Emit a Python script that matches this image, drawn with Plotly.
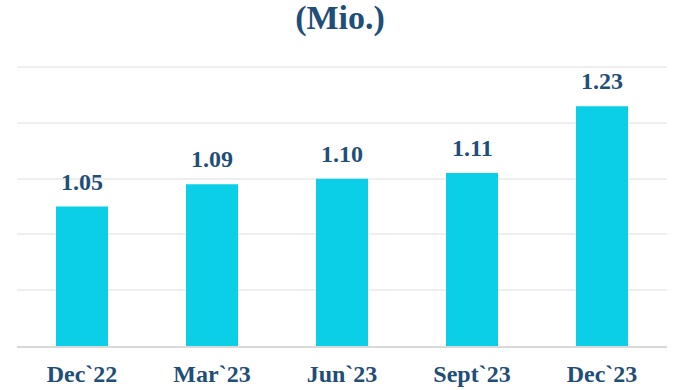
import plotly.graph_objects as go

# Quarterly figures, in millions
periods = ["Dec`22", "Mar`23", "Jun`23", "Sept`23", "Dec`23"]
values = [1.05, 1.09, 1.10, 1.11, 1.23]
value_labels = ["1.05", "1.09", "1.10", "1.11", "1.23"]

BAR_COLOR = "#0BCFE6"
TEXT_COLOR = "#1F4E79"
FONT = "Liberation Serif"

fig = go.Figure(
    go.Bar(
        x=periods,
        y=values,
        marker=dict(color=BAR_COLOR, line=dict(width=0)),
        hoverinfo="skip",
    )
)

for p, v, lab in zip(periods, values, value_labels):
    fig.add_annotation(
        x=p, y=v, text=f"<b>{lab}</b>", showarrow=False,
        yanchor="bottom", yshift=10,
        font=dict(family=FONT, size=24, color=TEXT_COLOR),
    )

fig.update_layout(
    width=680, height=390,
    margin=dict(l=17, r=13, t=66, b=44),
    paper_bgcolor="white", plot_bgcolor="white",
    bargap=0.6,
    showlegend=False,
    title=dict(
        text="<b>(Mio.)</b>", x=0.5, xanchor="center",
        y=1 - 17 / 390, yanchor="middle",
        font=dict(family=FONT, size=34, color=TEXT_COLOR),
    ),
    xaxis=dict(
        showgrid=False, showline=True, linecolor="#D9D9D9", linewidth=2,
        ticks="", ticklabelstandoff=5, automargin=False,
        tickfont=dict(family=FONT, size=24, color=TEXT_COLOR),
        tickvals=periods, ticktext=[f"<b>{p}</b>" for p in periods],
    ),
    yaxis=dict(
        range=[0.8, 1.302], dtick=0.1, showticklabels=False,
        showgrid=True, gridcolor="#EFEFEF", gridwidth=1.5,
        zeroline=False, showline=False, automargin=False,
    ),
)

fig.write_html("out.html")
